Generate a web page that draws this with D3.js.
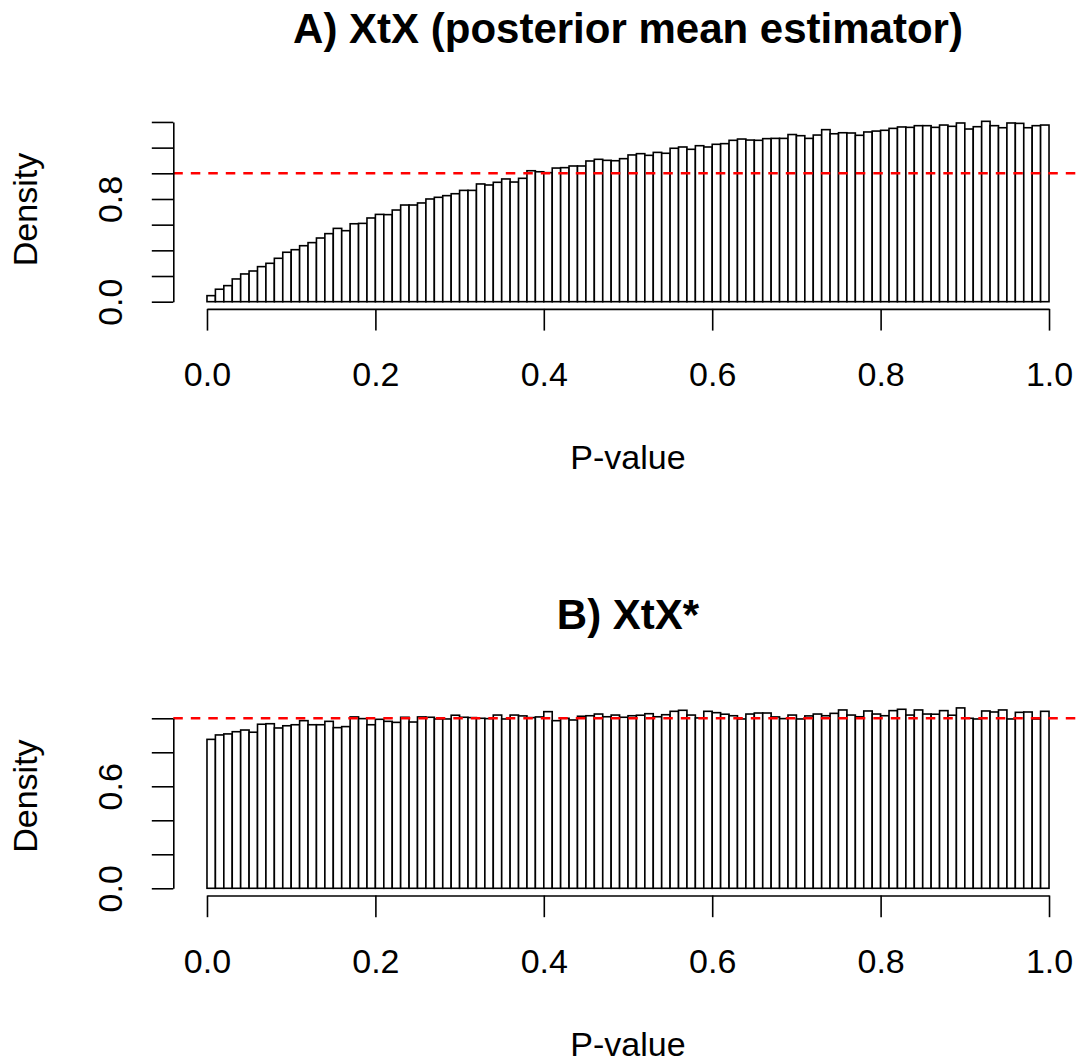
<!DOCTYPE html>
<html>
<head>
<meta charset="utf-8">
<script src="https://cdn.jsdelivr.net/npm/d3@7"></script>
<style>
  html, body { margin: 0; padding: 0; background: #ffffff; }
  svg { display: block; }
  text { font-family: "Liberation Sans", Arial, Helvetica, sans-serif; fill: #000; }
</style>
</head>
<body>
<svg id="chart" width="1085" height="1061"></svg>
<script>
// Histogram densities, 100 bins of width 0.01 on [0, 1]
const binWidth = 0.01;

const densityA = [
  0.047, 0.097, 0.125, 0.177, 0.216, 0.239, 0.273, 0.299, 0.338, 0.385,
  0.405, 0.436, 0.460, 0.496, 0.530, 0.571, 0.553, 0.607, 0.610, 0.652,
  0.680, 0.678, 0.714, 0.753, 0.753, 0.769, 0.800, 0.813, 0.826, 0.841,
  0.867, 0.867, 0.917, 0.909, 0.930, 0.956, 0.932, 0.961, 1.020, 1.012,
  1.005, 1.041, 1.044, 1.057, 1.057, 1.096, 1.109, 1.101, 1.098, 1.114,
  1.143, 1.153, 1.140, 1.163, 1.156, 1.195, 1.205, 1.187, 1.215, 1.205,
  1.226, 1.231, 1.257, 1.267, 1.259, 1.257, 1.270, 1.272, 1.272, 1.302,
  1.293, 1.272, 1.298, 1.340, 1.308, 1.316, 1.314, 1.296, 1.322, 1.329,
  1.335, 1.350, 1.361, 1.358, 1.371, 1.371, 1.358, 1.376, 1.366, 1.392,
  1.345, 1.363, 1.405, 1.371, 1.355, 1.392, 1.389, 1.355, 1.371, 1.376
];

const densityB = [
  0.876, 0.902, 0.908, 0.921, 0.931, 0.918, 0.965, 0.968, 0.943, 0.956,
  0.962, 0.986, 0.962, 0.962, 0.982, 0.945, 0.951, 1.008, 0.998, 0.962,
  0.994, 0.982, 0.976, 1.006, 0.978, 1.008, 1.006, 0.996, 0.996, 1.018,
  1.006, 1.004, 1.000, 0.998, 1.019, 0.996, 1.019, 1.014, 1.004, 1.008,
  1.039, 0.986, 1.000, 0.990, 1.012, 1.015, 1.025, 1.009, 1.019, 1.006,
  1.015, 1.018, 1.027, 1.009, 1.021, 1.041, 1.047, 1.019, 1.002, 1.041,
  1.033, 1.024, 1.015, 0.996, 1.025, 1.031, 1.031, 1.008, 0.998, 1.019,
  0.996, 1.014, 1.025, 1.015, 1.029, 1.049, 1.019, 1.009, 1.043, 1.025,
  1.015, 1.045, 1.053, 1.019, 1.049, 1.025, 1.024, 1.045, 1.018, 1.061,
  1.000, 0.996, 1.043, 1.037, 1.049, 0.996, 1.035, 1.037, 0.996, 1.041
];

const titles = ["A) XtX (posterior mean estimator)", "B) XtX*"];
const xTicks = [0, 0.2, 0.4, 0.6, 0.8, 1.0];
const xTickLabels = ["0.0", "0.2", "0.4", "0.6", "0.8", "1.0"];
const yTicksA = [0, 0.2, 0.4, 0.6, 0.8, 1.0, 1.2, 1.4];
const yLabelsA = { 0: "0.0", 0.8: "0.8" };
const yTicksB = [0, 0.2, 0.4, 0.6, 0.8, 1.0];
const yLabelsB = { 0: "0.0", 0.6: "0.6" };
const uniformDensity = 1.0;
const xLabel = "P-value";
const yLabel = "Density";

const svg = d3.select("#chart");
svg.append("rect").attr("width", 1085).attr("height", 1061).attr("fill", "#fff");

// Plot regions (pixel box of each panel)
const regionLeft = 173.3, regionRight = 1082.7;
const panelTop = [114.1, 700.7];
const regionHeight = 194.8;
const lineW = 1.6;

const panels = [
  { dens: densityA, title: titles[0], yTicks: yTicksA, yLabels: yLabelsA },
  { dens: densityB, title: titles[1], yTicks: yTicksB, yLabels: yLabelsB }
];

panels.forEach((p, k) => {
  const top = panelTop[k], bottom = top + regionHeight;
  const ymax = d3.max(p.dens);

  // R-style 4% extension of the data ranges
  const x = d3.scaleLinear().domain([-0.04, 1.04]).range([regionLeft, regionRight]);
  const y = d3.scaleLinear().domain([-0.04 * ymax, 1.04 * ymax]).range([bottom, top]);

  const g = svg.append("g");

  // bars
  g.selectAll("rect.bar")
    .data(p.dens)
    .join("rect")
    .attr("class", "bar")
    .attr("x", (d, i) => x(i * binWidth))
    .attr("y", d => y(d))
    .attr("width", (d, i) => x((i + 1) * binWidth) - x(i * binWidth))
    .attr("height", d => y(0) - y(d))
    .attr("fill", "#fff")
    .attr("stroke", "#000")
    .attr("stroke-width", lineW);

  // reference line at uniform density
  g.append("line")
    .attr("x1", regionLeft).attr("x2", regionRight)
    .attr("y1", y(uniformDensity)).attr("y2", y(uniformDensity))
    .attr("stroke", "#ff0000")
    .attr("stroke-width", 2.5)
    .attr("stroke-dasharray", "9.5,8");

  // x axis
  const xa = x.copy().domain([0, 1]).range([x(0), x(1)]);
  const xAxis = g.append("g")
    .attr("transform", `translate(0,${bottom})`)
    .call(d3.axisBottom(xa).tickValues(xTicks).tickSize(21.7).tickSizeOuter(0)
      .tickFormat((d, i) => xTickLabels[i]));
  xAxis.select(".domain").attr("stroke-width", lineW);
  xAxis.selectAll(".tick line").attr("stroke-width", lineW);
  xAxis.selectAll(".tick text")
    .attr("y", 77.6).attr("dy", null)
    .style("font-size", "34px")
    .style("font-family", "'Liberation Sans', Arial, sans-serif");

  // y axis
  const yTop = p.yTicks[p.yTicks.length - 1];
  const ya = y.copy().domain([0, yTop]).range([y(0), y(yTop)]);
  const yAxis = g.append("g")
    .attr("transform", `translate(${regionLeft},0)`)
    .call(d3.axisLeft(ya).tickValues(p.yTicks).tickSize(21.5).tickSizeOuter(0)
      .tickFormat(d => p.yLabels[Math.round(d * 10) / 10] || ""));
  yAxis.select(".domain").attr("stroke-width", lineW);
  yAxis.selectAll(".tick line").attr("stroke-width", lineW);
  yAxis.selectAll(".tick text")
    .attr("transform", "rotate(-90)")
    .attr("x", 0).attr("y", -51.6).attr("dy", null)
    .attr("text-anchor", "middle")
    .style("font-size", "34px")
    .style("font-family", "'Liberation Sans', Arial, sans-serif");

  // title
  g.append("text")
    .attr("x", (regionLeft + regionRight) / 2)
    .attr("y", top - 71.4)
    .attr("text-anchor", "middle")
    .style("font-size", "42px")
    .style("font-weight", "bold")
    .text(p.title);

  // axis titles
  g.append("text")
    .attr("x", (regionLeft + regionRight) / 2)
    .attr("y", bottom + 160)
    .attr("text-anchor", "middle")
    .style("font-size", "34px")
    .text(xLabel);

  g.append("text")
    .attr("transform", `translate(37.3,${top + regionHeight / 2 - 2}) rotate(-90)`)
    .attr("text-anchor", "middle")
    .style("font-size", "34px")
    .text(yLabel);
});
</script>
</body>
</html>
